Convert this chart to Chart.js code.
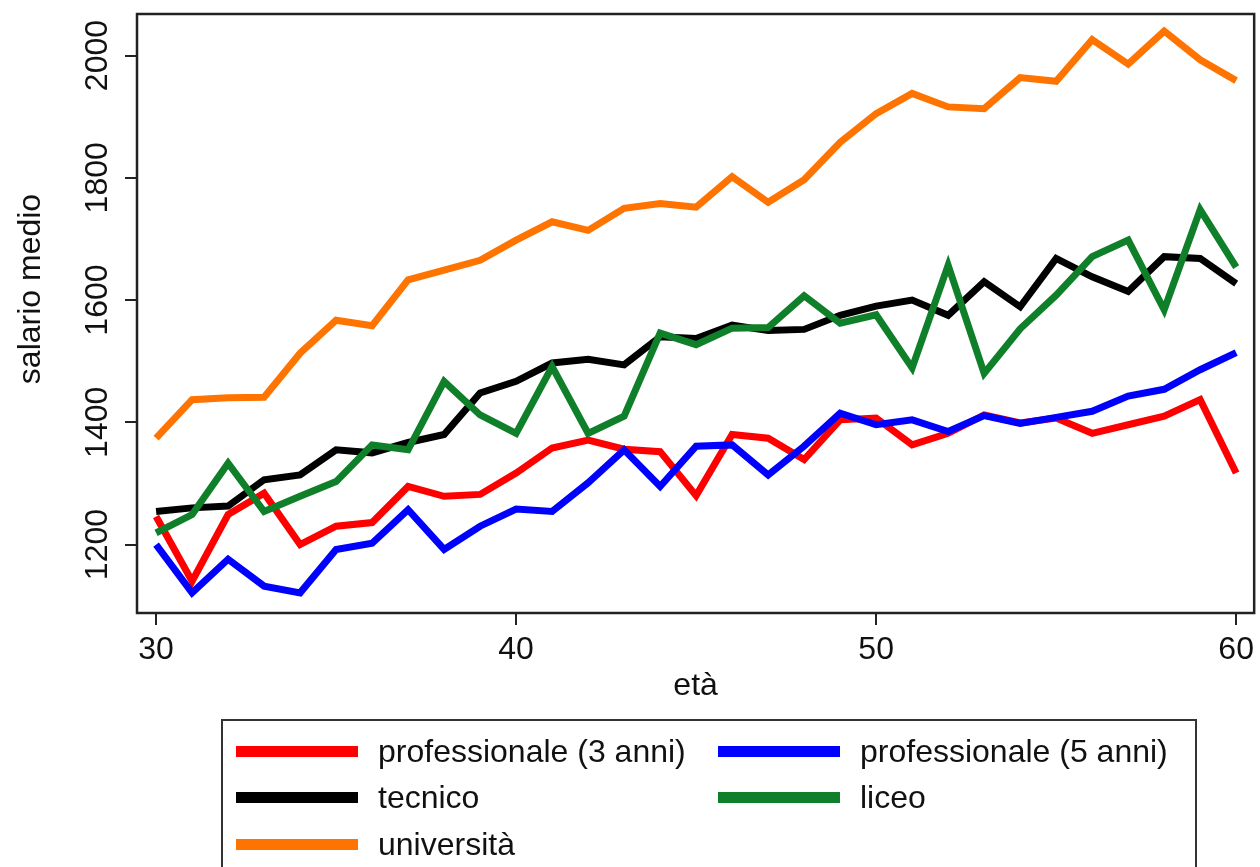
<!DOCTYPE html>
<html>
<head>
<meta charset="utf-8">
<script src="https://cdn.jsdelivr.net/npm/chart.js@4/dist/chart.umd.min.js"></script>
<style>
  body { margin: 0; background: #fff; }
  #wrap { position: relative; width: 1260px; height: 867px; overflow: hidden; }
  #legend {
    position: absolute; left: 221px; top: 719px; width: 976px; height: 200px;
    border: 2px solid #333; box-sizing: border-box;
    font: 32px "Liberation Sans", Arial, sans-serif; color: #111;
  }
  .item { position: absolute; display: flex; align-items: center; height: 40px; white-space: nowrap; }
  .swatch { display: inline-block; width: 122px; height: 11px; margin-right: 20px; }
</style>
</head>
<body>
<div id="wrap">
  <canvas id="myChart" width="1260" height="867"></canvas>
  <div id="legend"></div>
</div>
<script>
// Data
const ages = [30, 31, 32, 33, 34, 35, 36, 37, 38, 39, 40, 41, 42, 43, 44, 45, 46, 47, 48, 49, 50, 51, 52, 53, 54, 55, 56, 57, 58, 59, 60];
const prof3 = [1246, 1140, 1249, 1284, 1200, 1230, 1236, 1295, 1279, 1282, 1317, 1358, 1371, 1356, 1352, 1280, 1380, 1374, 1339, 1404, 1407, 1363, 1382, 1412, 1399, 1407, 1382, 1396, 1410, 1437, 1317];
const prof5 = [1200, 1121, 1176, 1132, 1121, 1192, 1202, 1257, 1192, 1230, 1258, 1254, 1301, 1355, 1295, 1361, 1363, 1314, 1361, 1415, 1396, 1404, 1385, 1411, 1398, 1408, 1418, 1443, 1454, 1486, 1514];
const tecnico = [1254, 1260, 1263, 1306, 1314, 1355, 1350, 1367, 1380, 1448, 1467, 1497, 1503, 1494, 1540, 1537, 1559, 1550, 1552, 1575, 1590, 1600, 1575, 1630, 1589, 1668, 1638, 1614, 1671, 1668, 1627];
const liceo = [1219, 1249, 1333, 1254, 1279, 1303, 1363, 1355, 1467, 1412, 1382, 1491, 1382, 1410, 1546, 1527, 1554, 1555, 1607, 1562, 1576, 1489, 1657, 1480, 1553, 1608, 1671, 1698, 1584, 1748, 1654];
const universita = [1374, 1437, 1440, 1441, 1513, 1567, 1558, 1633, 1649, 1665, 1698, 1728, 1714, 1750, 1758, 1752, 1802, 1760, 1797, 1858, 1905, 1938, 1916, 1913, 1964, 1958, 2026, 1986, 2040, 1993, 1959];

const seriesNames = ['professionale (3 anni)', 'professionale (5 anni)', 'tecnico', 'liceo', 'università'];
const seriesColors = ['#ff0000', '#0000ff', '#000000', '#0f7f2a', '#ff7400'];
const seriesValues = [prof3, prof5, tecnico, liceo, universita];

const xTicks = [30, 40, 50, 60];
const yTicks = [1200, 1400, 1600, 1800, 2000];

const FONT = '"Liberation Sans", Arial, sans-serif';
Chart.defaults.font.family = FONT;

// Frame, rotated y labels and y title
const framePlugin = {
  id: 'frame',
  afterDraw(chart) {
    const { ctx, chartArea: a, scales: { y } } = chart;
    ctx.save();
    ctx.strokeStyle = '#222';
    ctx.lineWidth = 2.5;
    ctx.strokeRect(a.left, a.top, a.right - a.left, a.bottom - a.top);

    ctx.fillStyle = '#111';
    ctx.font = '32px ' + FONT;
    ctx.textAlign = 'center';
    ctx.textBaseline = 'middle';
    yTicks.forEach(v => {
      ctx.save();
      ctx.translate(a.left - 39, y.getPixelForValue(v));
      ctx.rotate(-Math.PI / 2);
      ctx.fillText(String(v), 0, 0);
      ctx.restore();
    });

    ctx.save();
    ctx.translate(31, 289);
    ctx.rotate(-Math.PI / 2);
    ctx.fillText('salario medio', 0, 0);
    ctx.restore();
    ctx.restore();
  }
};

const ctx = document.getElementById('myChart').getContext('2d');
const myChart = new Chart(ctx, {
  type: 'line',
  data: {
    datasets: seriesNames.map((name, i) => ({
      label: name,
      data: ages.map((a, j) => ({ x: a, y: seriesValues[i][j] })),
      borderColor: seriesColors[i],
      backgroundColor: seriesColors[i],
      borderWidth: 7,
      pointRadius: 0,
      tension: 0,
      fill: false,
      order: seriesNames.length - i
    }))
  },
  options: {
    responsive: false,
    animation: false,
    devicePixelRatio: 1,
    layout: { padding: { top: 14, right: 2, bottom: 154, left: 0 } },
    plugins: { legend: { display: false }, tooltip: { enabled: false } },
    scales: {
      x: {
        type: 'linear',
        min: 29.47,
        max: 60.5,
        afterBuildTicks: scale => { scale.ticks = xTicks.map(v => ({ value: v })); },
        afterFit: scale => { scale.height = 100; },
        grid: { drawOnChartArea: false, drawTicks: true, tickLength: 12, color: '#222', lineWidth: 2 },
        border: { display: false },
        ticks: { color: '#111', font: { size: 32 }, padding: 6, maxRotation: 0 },
        title: { display: true, text: 'età', color: '#111', font: { size: 32 }, padding: { top: 0, bottom: 8 } }
      },
      y: {
        min: 1088,
        max: 2068,
        afterBuildTicks: scale => { scale.ticks = yTicks.map(v => ({ value: v })); },
        afterFit: scale => { scale.width = 137; },
        grid: { drawOnChartArea: false, drawTicks: true, tickLength: 12, color: '#222', lineWidth: 2 },
        border: { display: false },
        ticks: { display: false }
      }
    }
  },
  plugins: [framePlugin]
});

// Legend (2 columns, row-major like the original)
const legend = document.getElementById('legend');
myChart.data.datasets.forEach((ds, i) => {
  const item = document.createElement('div');
  item.className = 'item';
  item.style.left = (13 + (i % 2) * 482) + 'px';
  item.style.top = (10 + Math.floor(i / 2) * 46.5) + 'px';
  const sw = document.createElement('span');
  sw.className = 'swatch';
  sw.style.background = ds.borderColor;
  const label = document.createElement('span');
  label.textContent = ds.label;
  item.appendChild(sw);
  item.appendChild(label);
  legend.appendChild(item);
});
</script>
</body>
</html>
